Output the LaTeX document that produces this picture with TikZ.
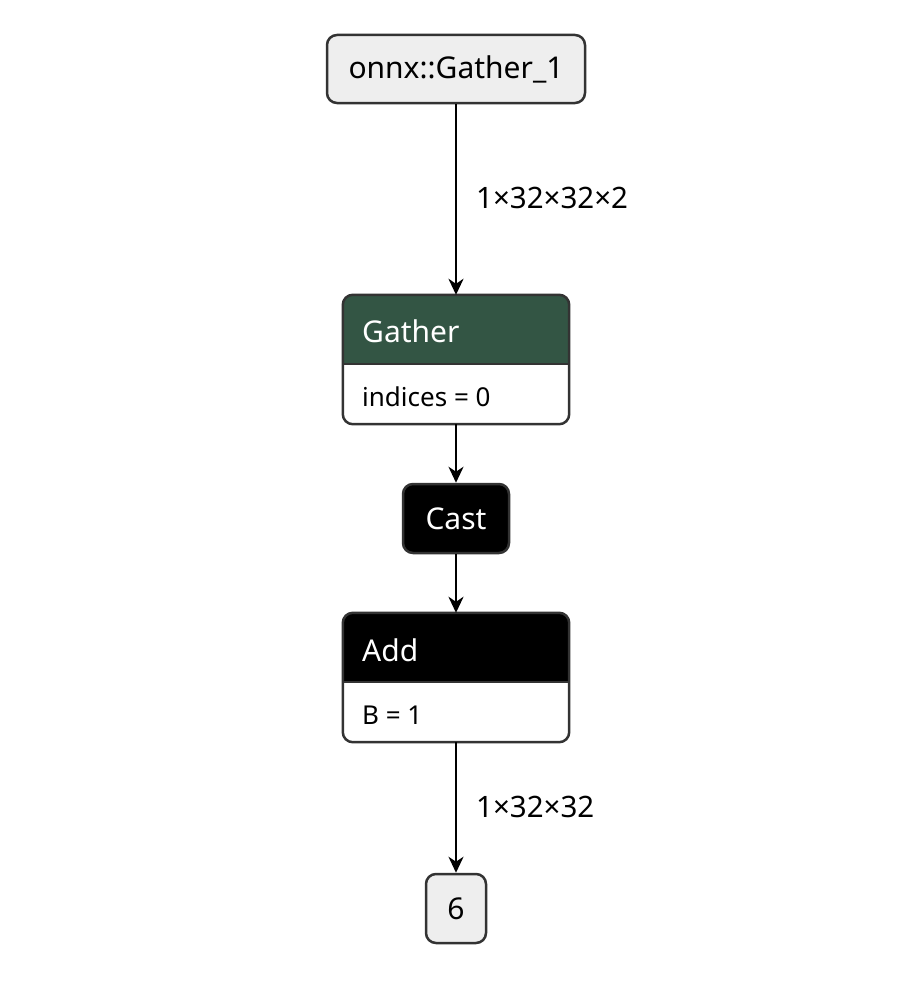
\documentclass[tikz,border=0pt]{standalone}
\usepackage{fontspec}
\setmainfont{Noto Sans}
\usetikzlibrary{arrows.meta}
\definecolor{boxline}{HTML}{333333}
\definecolor{iofill}{HTML}{EEEEEE}
\definecolor{gathergreen}{HTML}{335544}
\begin{document}
\begin{tikzpicture}[x=1pt,y=-1pt,
  hdrfont/.style={font=\fontsize{30}{36}\selectfont},
  attrfont/.style={font=\fontsize{26}{31}\selectfont},
  io/.style={draw=boxline, fill=iofill, line width=2.5pt, rounded corners=10pt,
    minimum height=68pt, inner sep=0pt, hdrfont},
  opshell/.style={draw=none, fill=white, inner sep=0pt, minimum width=226pt, minimum height=129pt},
  outline/.style={draw=boxline, line width=2.5pt, rounded corners=10pt},
  hdrtext/.style={anchor=west, text=white, inner sep=0pt, hdrfont},
  attrtext/.style={anchor=west, text=black, inner sep=0pt, attrfont},
  elabel/.style={anchor=west, inner sep=0pt, font=\fontsize{29.5}{35}\selectfont},
  edge/.style={draw=black, line width=2.3pt, -{Stealth[length=16pt, width=15pt, inset=5pt]}},
  castbox/.style={draw=boxline, fill=black, text=white, line width=2.5pt, rounded corners=10pt,
    minimum width=106pt, minimum height=69pt, inner sep=0pt, hdrfont}
]
\useasboundingbox[fill=white] (0,0) rectangle (923,982);

% input node
\node[io, minimum width=258pt] (onnx) at (456,69) {onnx::Gather\_1};

% Gather op
\node[opshell] (gather) at (456,359.5) {};
\fill[gathergreen, rounded corners=10pt] (343,295) rectangle (569,364);
\fill[gathergreen] (343,340) rectangle (569,364);
\draw[boxline, line width=2.5pt] (343,364) -- (569,364);
\draw[outline] (gather.north west) rectangle (gather.south east);
\node[hdrtext] (gathert) at (362,331) {Gather};
\node[attrtext] (gathera) at (362,397) {indices = 0};

% Cast op
\node[castbox] (cast) at (456,518.5) {Cast};

% Add op
\node[opshell] (add) at (456,677.5) {};
\fill[black, rounded corners=10pt] (343,613) rectangle (569,682);
\fill[black] (343,660) rectangle (569,682);
\draw[boxline, line width=2.5pt] (343,682) -- (569,682);
\draw[outline] (add.north west) rectangle (add.south east);
\node[hdrtext] (addt) at (362,650) {Add};
\node[attrtext] (adda) at (362,715) {B = 1};

% output node
\node[io, minimum width=60pt, minimum height=69pt] (out) at (456,908.5) {6};

% edges
\draw[edge] (onnx) -- (gather);
\draw[edge] (gather) -- (cast);
\draw[edge] (cast) -- (add);
\draw[edge] (add) -- (out);

% edge labels
\node[elabel] (l1) at (476,198) {1×32×32×2};
\node[elabel] (l2) at (476,807) {1×32×32};
\end{tikzpicture}
\end{document}
